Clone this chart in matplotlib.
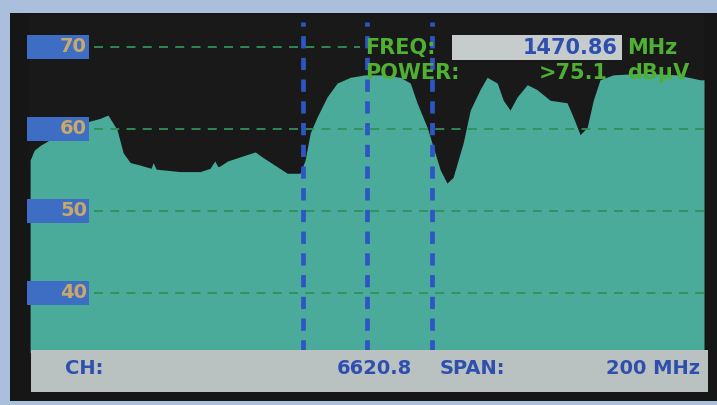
import numpy as np
from matplotlib import pyplot as plt
from matplotlib.patches import Rectangle

# spectrum trace (MHz, dBuV)
freq = [1370.9, 1372.1, 1373.9, 1376.8, 1379.8, 1384.3, 1388.1, 1391.7, 1394.0,
        1396.7, 1398.5, 1400.6, 1403.5, 1406.8, 1407.4, 1408.3, 1415.4, 1421.3,
        1424.3, 1425.7, 1426.6, 1427.3, 1429.5,
        1433.2, 1437.7, 1439.7, 1444.2, 1447.2, 1451.0, 1452.5, 1454.0, 1456.1,
        1459.0, 1462.0, 1465.9, 1470.3, 1475.6, 1480.7, 1483.7, 1485.7, 1488.7,
        1490.5, 1492.6, 1494.6, 1496.4, 1499.4, 1501.5, 1504.4, 1506.5, 1509.5,
        1511.3, 1513.3, 1515.4, 1518.4, 1521.3, 1525.2, 1530.2, 1532.0, 1534.1,
        1536.2, 1538.0, 1540.0, 1543.9, 1552.8, 1562.9, 1569.7, 1570.86]
level = [56.2, 57.4, 58.0, 58.7, 59.1, 59.9, 60.9, 61.3, 61.7,
         59.9, 57.1, 55.9, 55.6, 55.2, 55.9, 55.1, 54.8, 54.8,
         55.2, 56.1, 55.4, 55.5, 56.1,
         56.6, 57.2, 56.6, 55.4, 54.6, 54.6, 56.2, 59.5, 61.5,
         63.9, 65.6, 66.3, 66.6, 66.6, 66.3, 65.6, 63.2, 60.2,
         57.8, 55.0, 53.4, 54.1, 58.3, 62.3, 64.8, 66.3, 65.6,
         63.5, 62.3, 63.9, 65.4, 64.8, 63.5, 63.2, 61.5, 59.3,
         60.2, 63.5, 66.0, 66.6, 66.8, 66.6, 66.0, 66.0]
grid_levels = [40, 50, 60, 70]
markers = [1452.0, 1470.86, 1490.0]
f_start, f_stop = 1370.86, 1570.86

W, H = 717, 405
fig = plt.figure(figsize=(W / 100, H / 100), dpi=100, facecolor='#a9bfdb')

def px(x, y):
    return x / W, 1 - y / H

# black bezel of the meter screen
fig.patches.append(Rectangle(px(10, 401), 707 / W, 388 / H, transform=fig.transFigure,
                             facecolor='#161616', edgecolor='none', zorder=-1))

ax = fig.add_axes([30 / W, 1 - 352 / H, 674 / W, 337 / H])
ax.set_facecolor('#191919')
ax.set_xlim(f_start, f_stop)
ax.set_ylim(32.8, 73.9)
ax.fill_between(freq, level, 30, color='#4aab9a', lw=0, zorder=1)

for g in grid_levels:
    xmax = 0.49 if g == 70 else 1.0
    ax.axhline(g, xmin=0.095, xmax=xmax, color='#33905a', lw=1.3,
               dashes=(5, 4), zorder=2)
    ax.add_patch(Rectangle((f_start - 1, g - 1.45), 18.5, 2.9, facecolor='#3d6ec4',
                           edgecolor='none', zorder=3, clip_on=False))
    ax.text(f_start + 16.9, g, str(g), color='#c9a86c', fontsize=14, fontweight='bold',
            ha='right', va='center', zorder=4)

for m in markers:
    ax.axvline(m, ymin=0.0, ymax=0.98, color='#2d56c4', lw=3.4, dashes=(2.6, 2.0), zorder=2)

for s in ax.spines.values():
    s.set_visible(False)
ax.set_xticks([])
ax.set_yticks([])

# readouts
green = '#4fb034'
blue = '#2f4fae'
fig.patches.append(Rectangle(px(452, 60), 170 / W, 25 / H, transform=fig.transFigure,
                             facecolor='#c6cccb', edgecolor='none', zorder=5))
fig.text(*px(365, 48), 'FREQ:', color=green, fontsize=15, fontweight='bold',
         ha='left', va='center', zorder=6)
fig.text(*px(618, 48), '1470.86', color=blue, fontsize=15, fontweight='bold',
         ha='right', va='center', zorder=6)
fig.text(*px(627, 48), 'MHz', color=green, fontsize=15, fontweight='bold',
         ha='left', va='center', zorder=6)
fig.text(*px(365, 73), 'POWER:', color=green, fontsize=15, fontweight='bold',
         ha='left', va='center', zorder=6)
fig.text(*px(608, 73), '>75.1', color=green, fontsize=15, fontweight='bold',
         ha='right', va='center', zorder=6)
fig.text(*px(627, 73), 'dBµV', color=green, fontsize=15, fontweight='bold',
         ha='left', va='center', zorder=6)

# status bar
fig.patches.append(Rectangle(px(31, 392), 677 / W, 42 / H, transform=fig.transFigure,
                             facecolor='#b9c2c0', edgecolor='none', zorder=5))
fig.text(*px(65, 369), 'CH:', color=blue, fontsize=14, fontweight='bold',
         ha='left', va='center', zorder=6)
fig.text(*px(412, 369), '6620.8', color=blue, fontsize=14, fontweight='bold',
         ha='right', va='center', zorder=6)
fig.text(*px(440, 369), 'SPAN:', color=blue, fontsize=14, fontweight='bold',
         ha='left', va='center', zorder=6)
fig.text(*px(700, 369), '200 MHz', color=blue, fontsize=14, fontweight='bold',
         ha='right', va='center', zorder=6)

fig.savefig('out.png', dpi=100, facecolor=fig.get_facecolor())
